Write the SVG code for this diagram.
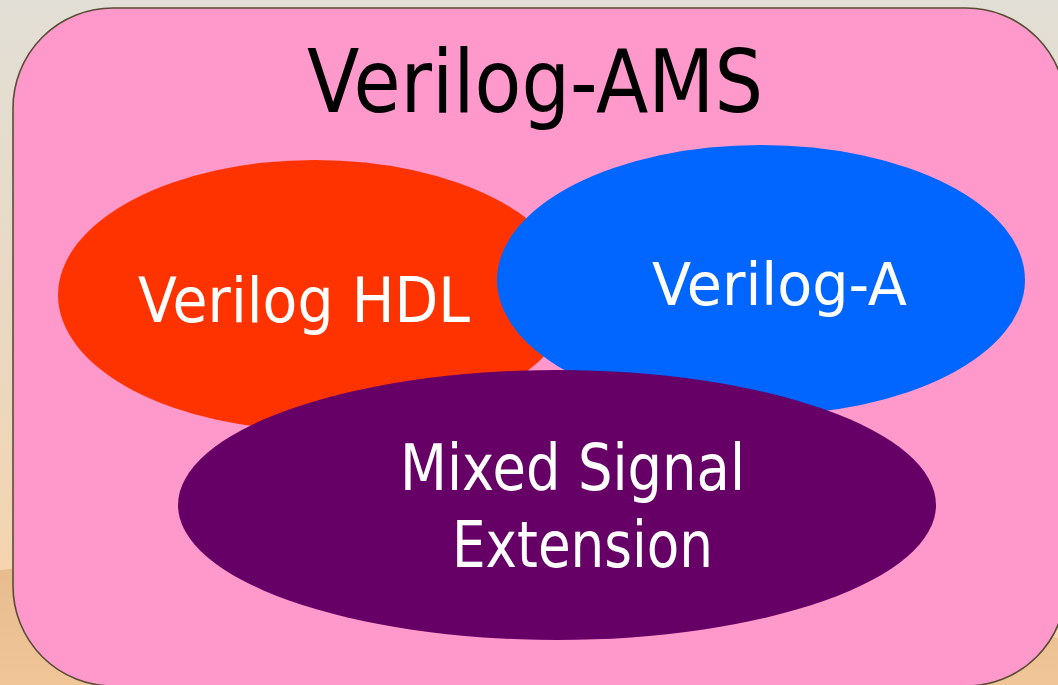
<svg xmlns="http://www.w3.org/2000/svg" width="1058" height="685" viewBox="0 0 1058 685">
  <defs>
    <linearGradient id="bgGrad" x1="0" y1="0" x2="0" y2="1">
      <stop offset="0" stop-color="#e2dfd6"/>
      <stop offset="0.5" stop-color="#ead8c0"/>
      <stop offset="0.85" stop-color="#f5d4ad"/>
      <stop offset="1" stop-color="#f5d4ad"/>
    </linearGradient>
    <linearGradient id="bandGrad" x1="0" y1="0" x2="0" y2="1">
      <stop offset="0" stop-color="#e6bb8e"/>
      <stop offset="1" stop-color="#f0c597"/>
    </linearGradient>
    <style>
      .frame { fill: #ff99cc; stroke: #5a4c34; stroke-width: 1.6; }
      .label { font-family: "DejaVu Sans", "Liberation Sans", sans-serif; text-anchor: start; }
      .light { fill: #ffffff; }
    </style>
  </defs>

  <!-- backdrop -->
  <rect x="0" y="0" width="1058" height="685" fill="url(#bgGrad)"/>
  <path d="M0,570 C300,545 800,560 1058,638 L1058,685 L0,685 Z" fill="url(#bandGrad)"/>

  <!-- outer container -->
  <g id="verilog-ams">
    <rect class="frame" x="13" y="8" width="1053" height="678" rx="100" ry="100"/>
    <text class="label" x="307" y="112" font-size="88" fill="#000000" textLength="456" lengthAdjust="spacingAndGlyphs">Verilog-AMS</text>
  </g>

  <g id="verilog-hdl">
    <ellipse cx="315" cy="295" rx="257" ry="135" fill="#ff3300"/>
    <text class="label light" x="138" y="322" font-size="62" textLength="332" lengthAdjust="spacingAndGlyphs">Verilog HDL</text>
  </g>

  <g id="verilog-a">
    <ellipse cx="761" cy="280" rx="264" ry="135" fill="#0066ff"/>
    <text class="label light" x="652" y="305" font-size="59" textLength="255" lengthAdjust="spacingAndGlyphs">Verilog-A</text>
  </g>

  <g id="mixed-signal">
    <ellipse cx="557" cy="505" rx="379" ry="135" fill="#660066"/>
    <text class="label light" x="400" y="490" font-size="64" textLength="345" lengthAdjust="spacingAndGlyphs">Mixed Signal</text>
    <text class="label light" x="452" y="567" font-size="64" textLength="261" lengthAdjust="spacingAndGlyphs">Extension</text>
  </g>

  <g id="connectors"/>
</svg>
